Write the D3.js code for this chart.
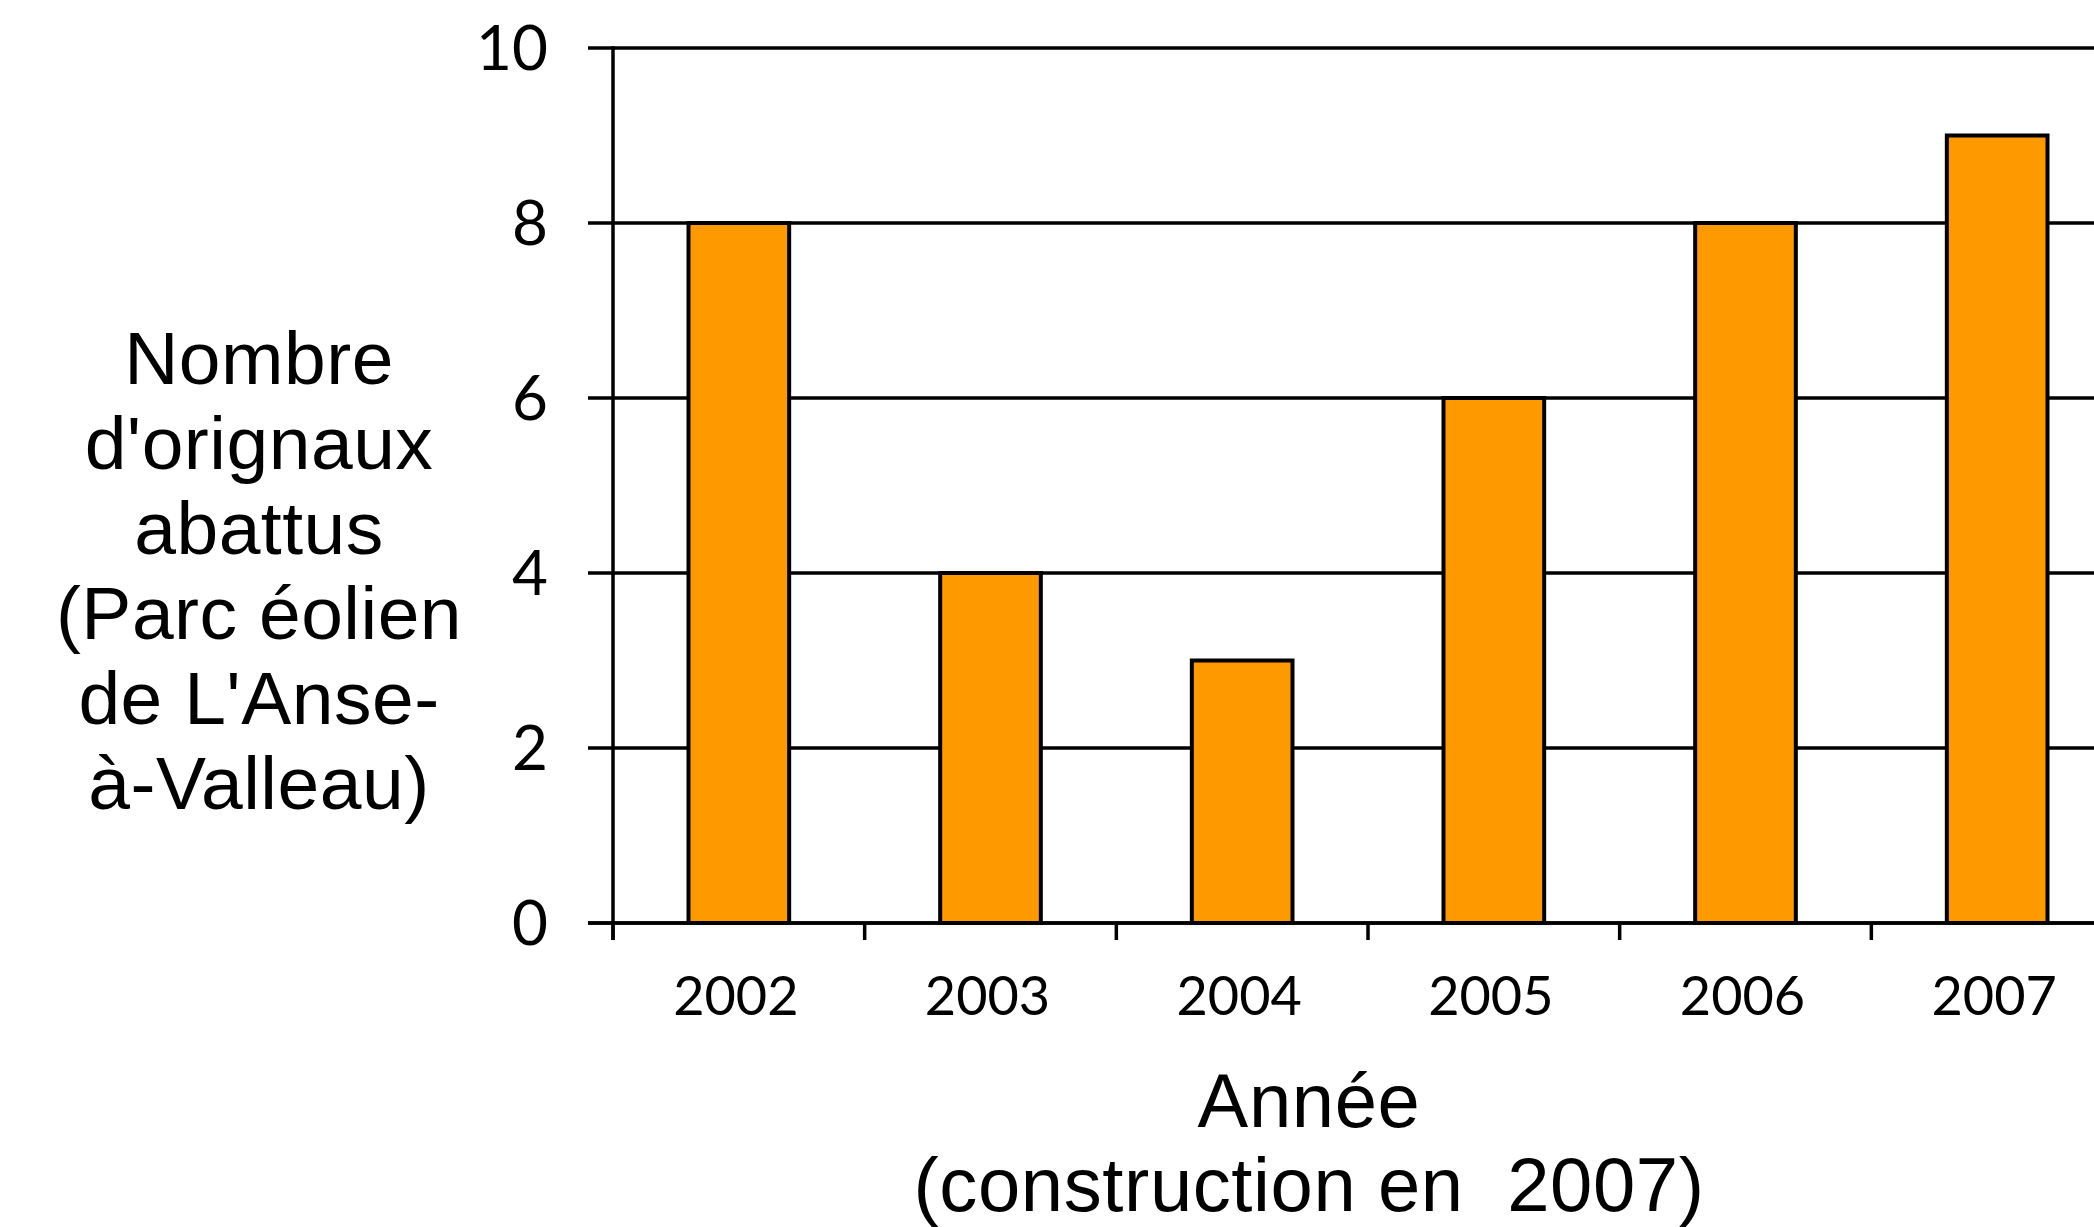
<!DOCTYPE html>
<html>
<head>
<meta charset="utf-8">
<script src="https://cdn.jsdelivr.net/npm/d3@7"></script>
<style>
  html, body { margin: 0; padding: 0; background: #fff; overflow: hidden; }
  svg { display: block; }
</style>
</head>
<body>
<svg id="chart" width="2094" height="1227"></svg>
<script>
const categories = ["2002", "2003", "2004", "2005", "2006", "2007"];
const values = [8, 4, 3, 6, 8, 9];
const yTicks = [0, 2, 4, 6, 8, 10];
const yTitleLines = ["Nombre", "d'orignaux", "abattus", "(Parc éolien", "de L'Anse-", "à-Valleau)"];
const xTitleLines = ["Année", "(construction en  2007)"];

(function () {
const W = 2094, H = 1227;
const pLeft = 613, pRight = 2123, pTop = 48, pBottom = 923;

const svg = d3.select("#chart");

const y = d3.scaleLinear().domain([0, 10]).range([pBottom, pTop]);
const slots = d3.scaleBand().domain(categories).range([pLeft, pRight]).padding(0);
const x = d3.scaleBand().domain(categories).range([pLeft, pRight]).paddingInner(0.6).paddingOuter(0.3);

// gridlines (extend left as tick marks)
svg.append("g").selectAll("line").data(yTicks).join("line")
  .attr("x1", pLeft - 25).attr("x2", W + 10)
  .attr("y1", d => y(d)).attr("y2", d => y(d))
  .attr("stroke", "#000").attr("stroke-width", 3.5);

// y-axis line
svg.append("line")
  .attr("x1", pLeft).attr("x2", pLeft)
  .attr("y1", y(10) - 1.75).attr("y2", pBottom + 17)
  .attr("stroke", "#000").attr("stroke-width", 3.5);

// x tick marks at category boundaries
const boundaries = categories.map(c => slots(c)).concat([slots(categories[categories.length - 1]) + slots.bandwidth()]);
svg.append("g").selectAll("line").data(boundaries).join("line")
  .attr("x1", d => d).attr("x2", d => d)
  .attr("y1", pBottom).attr("y2", pBottom + 17)
  .attr("stroke", "#000").attr("stroke-width", 3.5);

// bars
svg.append("g").selectAll("rect").data(values).join("rect")
  .attr("x", (d, i) => x(categories[i]))
  .attr("width", x.bandwidth())
  .attr("y", d => y(d))
  .attr("height", d => pBottom - y(d))
  .attr("fill", "#FF9900")
  .attr("stroke", "#000").attr("stroke-width", 4);

// baseline redrawn on top
svg.append("line")
  .attr("x1", pLeft - 25).attr("x2", W + 10)
  .attr("y1", pBottom).attr("y2", pBottom)
  .attr("stroke", "#000").attr("stroke-width", 3.5);

// y tick labels
svg.append("g").selectAll("text").data(yTicks).join("text")
  .attr("x", 548).attr("y", d => y(d))
  .attr("dy", "0.36em")
  .attr("text-anchor", "end")
  .attr("font-family", "Lato, 'Open Sans', sans-serif")
  .attr("font-size", 62)
  .attr("fill", "#000")
  .text(d => d);

// x tick labels
svg.append("g").selectAll("text").data(categories).join("text")
  .attr("x", d => slots(d) + slots.bandwidth() / 2 - 3)
  .attr("y", 1015)
  .attr("text-anchor", "middle")
  .attr("font-family", "Lato, 'Open Sans', sans-serif")
  .attr("font-size", 54)
  .attr("fill", "#000")
  .text(d => d);

// y title
svg.append("g").selectAll("text").data(yTitleLines).join("text")
  .attr("x", 259).attr("y", (d, i) => 384 + i * 85)
  .attr("text-anchor", "middle")
  .attr("font-family", "'Liberation Sans', Arial, sans-serif")
  .attr("font-size", 75)
  .attr("letter-spacing", 0.5)
  .attr("fill", "#000")
  .text(d => d);

// x title
svg.append("g").selectAll("text").data(xTitleLines).join("text")
  .attr("x", 1309).attr("y", (d, i) => 1127 + i * 84)
  .attr("text-anchor", "middle")
  .attr("font-family", "'Liberation Sans', Arial, sans-serif")
  .attr("font-size", 76)
  .attr("letter-spacing", 0.6)
  .attr("fill", "#000")
  .style("white-space", "pre")
  .text(d => d);
})();
</script>
</body>
</html>
